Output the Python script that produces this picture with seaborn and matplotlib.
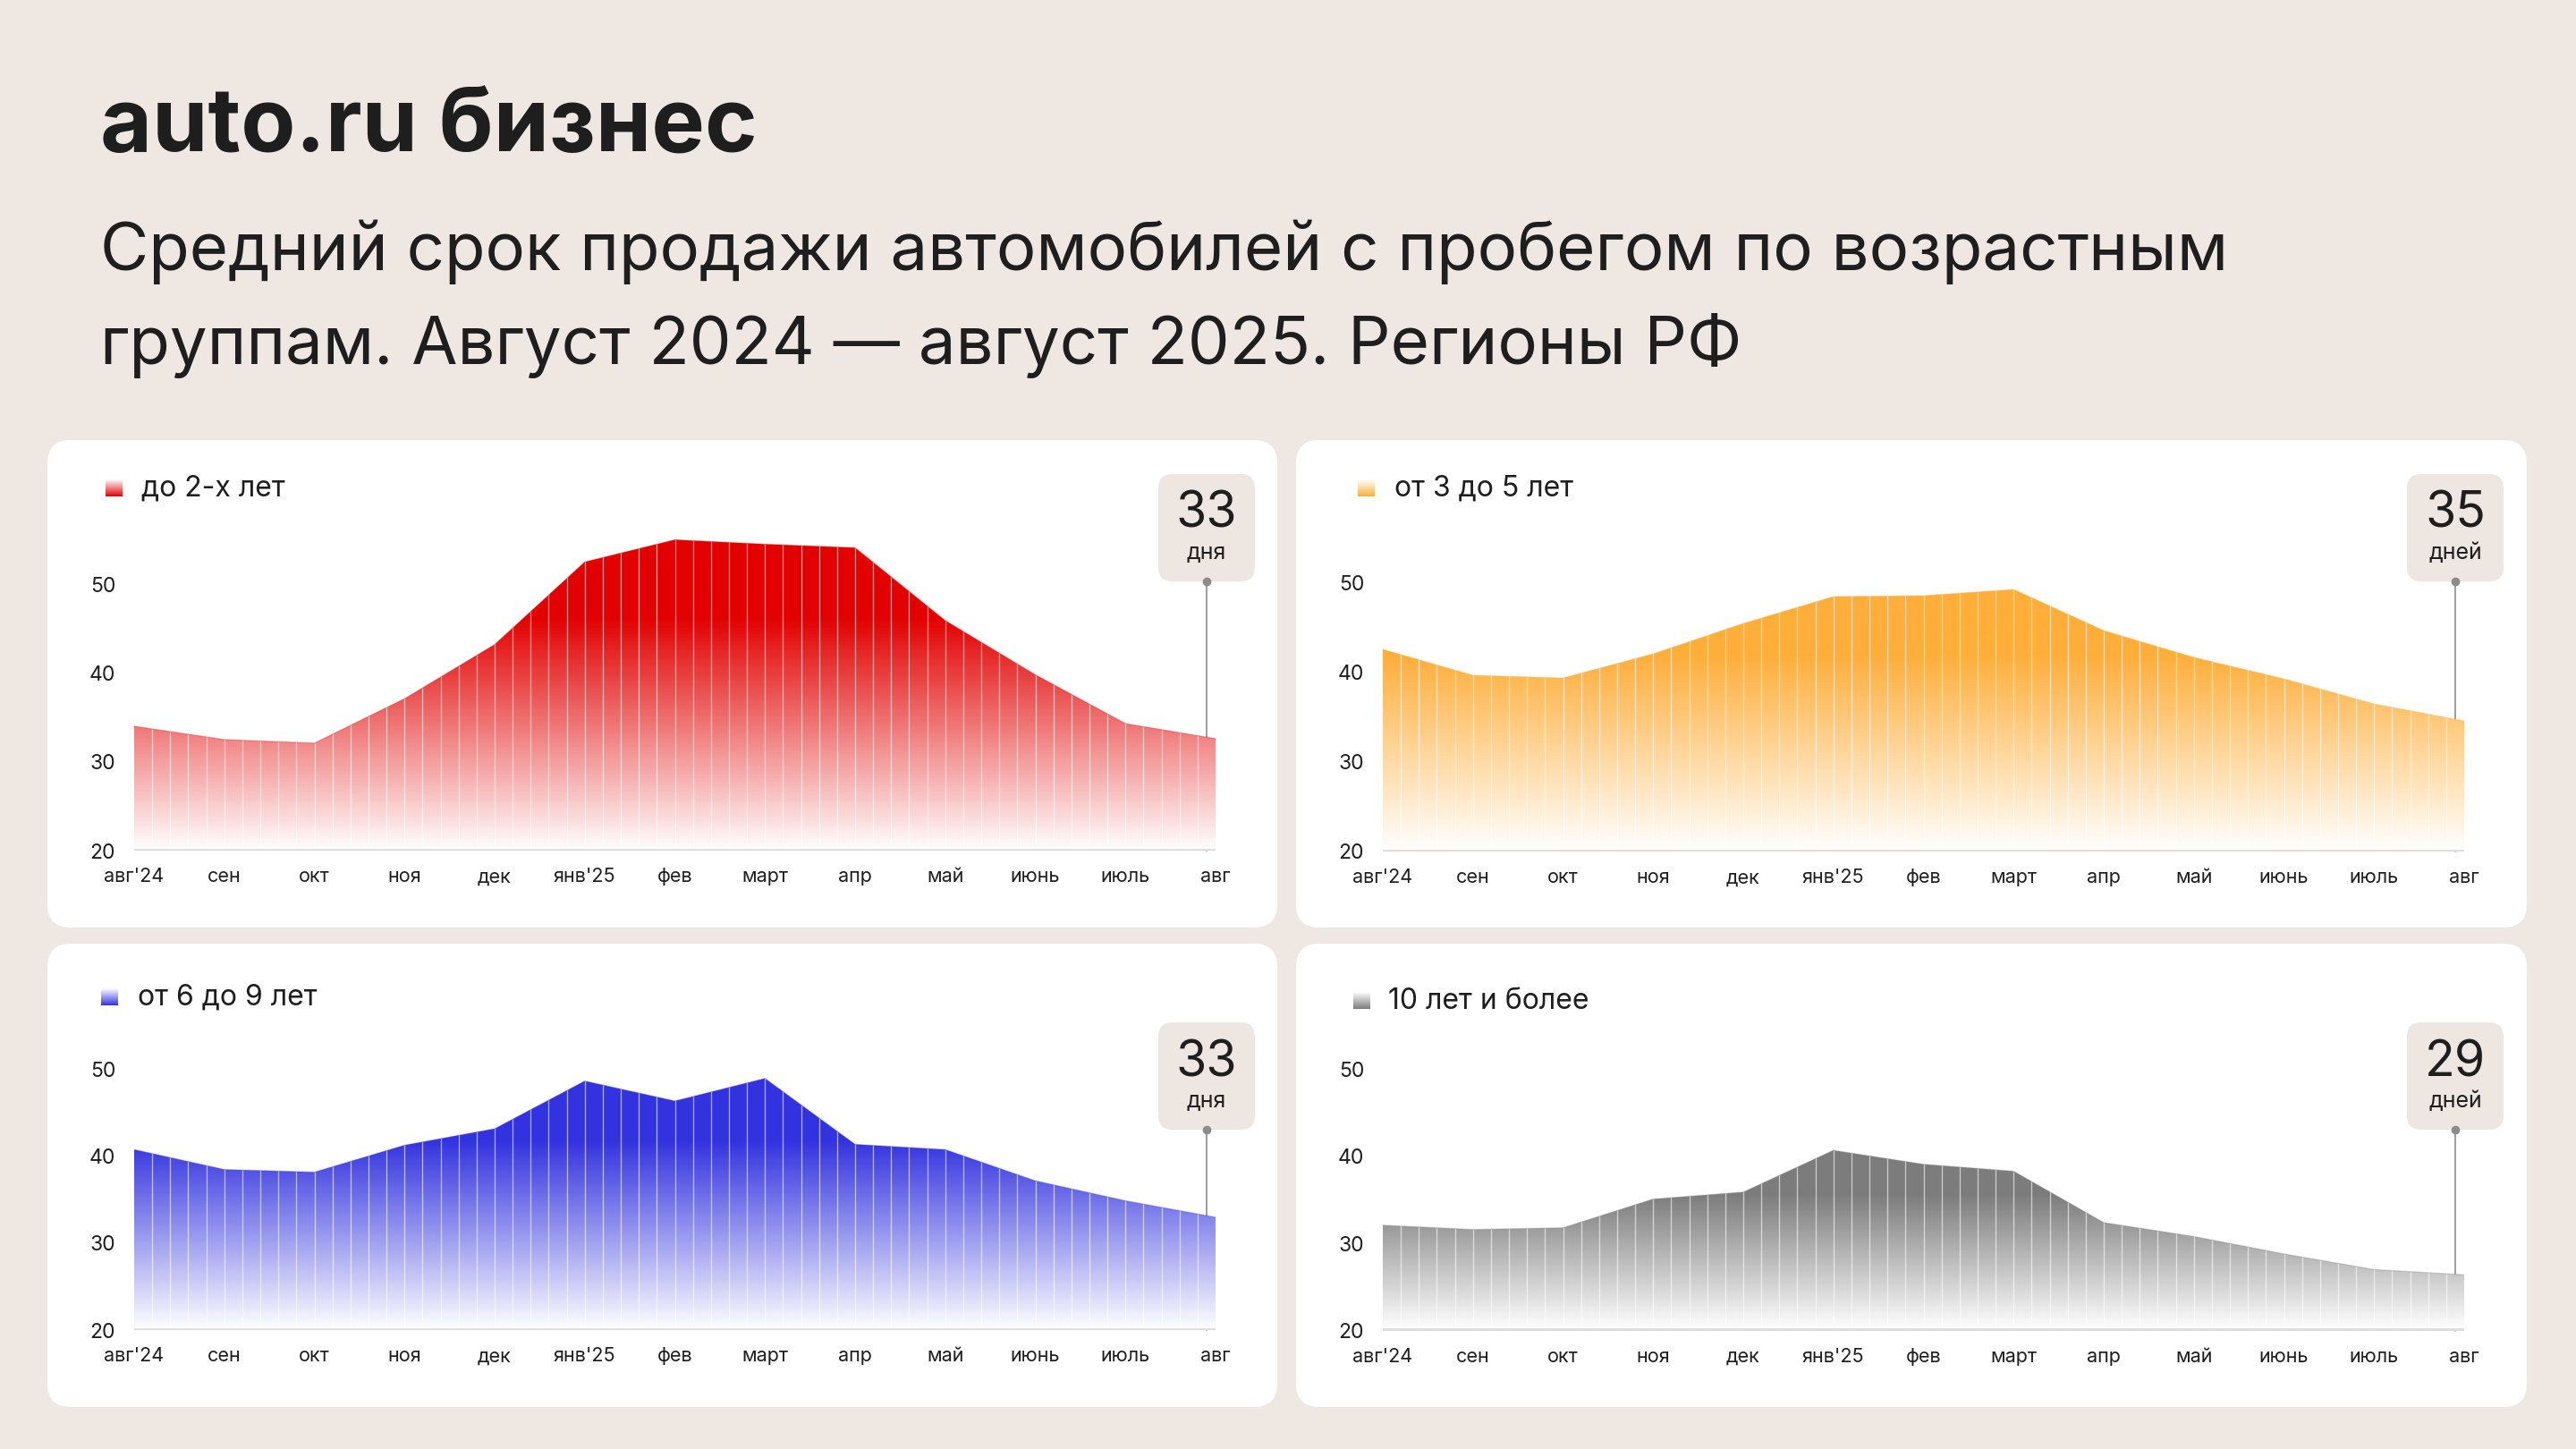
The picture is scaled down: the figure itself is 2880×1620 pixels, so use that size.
import numpy as np
import matplotlib
matplotlib.use("Agg")
import matplotlib.pyplot as plt
import seaborn as sns
import pandas as pd
from matplotlib.patches import FancyBboxPatch
from matplotlib.colors import to_rgb

# --- data ---
months = ["авг'24", "сен", "окт", "ноя", "дек", "янв'25", "фев", "март",
          "апр", "май", "июнь", "июль", "авг"]
under_2 = [34.0, 32.5, 32.1, 37.1, 43.2, 52.5, 55.0, 54.5, 54.1, 45.9, 39.8, 34.3, 32.6]
from_3_to_5 = [42.6, 39.7, 39.4, 42.1, 45.5, 48.5, 48.6, 49.3, 44.7, 41.7, 39.3, 36.5, 34.6]
from_6_to_9 = [40.8, 38.5, 38.2, 41.3, 43.2, 48.7, 46.4, 49.0, 41.4, 40.8, 37.2, 34.9, 33.0]
over_10 = [32.1, 31.6, 31.8, 35.1, 35.9, 40.7, 39.1, 38.3, 32.4, 30.8, 28.8, 27.0, 26.4]
group_names = ["до 2-х лет", "от 3 до 5 лет", "от 6 до 9 лет", "10 лет и более"]
badge_values = ["33", "35", "33", "29"]
badge_units = ["дня", "дней", "дня", "дней"]
y_ticks = [20, 30, 40, 50]

W, H = 2880, 1620
BG = "#EFE8E2"
TXT = "#1E1E1E"
colors = ["#E30000", "#FFAE3A", "#3333E0", "#7C7C7C"]


def gradient(color, n=256, solid=0.75):
    # white at the bottom, full colour from `solid` of the height upwards
    c = np.array(to_rgb(color))
    t = np.clip(np.linspace(0, 1, n) / solid, 0, 1)[:, None]
    rgb = 1 - t * (1 - c)
    return np.concatenate([rgb, np.ones((n, 1))], axis=1)[:, None, :]


def main():
    sns.set_theme(style="white")
    plt.rcParams["font.family"] = ["Inter", "DejaVu Sans"]

    fig = plt.figure(figsize=(W / 100, H / 100), dpi=100, facecolor=BG)
    bg = fig.add_axes([0, 0, 1, 1], zorder=0)
    bg.set_xlim(0, W)
    bg.set_ylim(H, 0)
    bg.set_autoscale_on(False)
    bg.axis("off")

    bg.text(112, 170, "auto.ru бизнес", fontsize=72, fontweight="bold",
            color=TXT, va="baseline")
    bg.text(112, 302, "Средний срок продажи автомобилей с пробегом по возрастным",
            fontsize=53.5, color=TXT, va="baseline")
    bg.text(112, 407, "группам. Август 2024 — август 2025. Регионы РФ",
            fontsize=53.5, color=TXT, va="baseline")

    panels = [(53, 492, 1428, 1037), (1449, 492, 2825, 1037),
              (53, 1055, 1428, 1573), (1449, 1055, 2825, 1573)]
    # left, right, y of 20, px per unit
    axes_geo = [(150, 1359, 951, 9.93), (1546, 2755, 952, 10.0),
                (150, 1359, 1487, 9.70), (1546, 2755, 1487.5, 9.73)]
    legend_pos = [(118, 536, 158, 546), (1518, 536, 1559, 546),
                  (113, 1105, 154, 1115), (1513, 1109, 1552, 1119)]
    badge_top = [530, 530, 1143, 1143]
    series = [under_2, from_3_to_5, from_6_to_9, over_10]

    for i in range(4):
        x0, y0, x1, y1 = panels[i]
        bg.add_patch(FancyBboxPatch((x0, y0), x1 - x0, y1 - y0,
                                    boxstyle="round,pad=0,rounding_size=26",
                                    facecolor="white", edgecolor="none"))

        left, right, y20, sc = axes_geo[i]
        ytop = 57
        top_px = y20 - (ytop - 20) * sc
        ax = fig.add_axes([left / W, 1 - y20 / H, (right - left) / W, (y20 - top_px) / H],
                          zorder=1)
        ax.set_facecolor("none")
        ax.set_xlim(0, 12)
        ax.set_ylim(20, ytop)

        df = pd.DataFrame({"x": np.arange(len(months)), "y": series[i]})
        vmax = max(series[i])
        poly = ax.fill_between(df["x"], df["y"], 20, facecolor="none", edgecolor="none")
        clip = poly.get_paths()[0]
        im = ax.imshow(gradient(colors[i]), extent=(0, 12, 20, vmax), origin="lower",
                       aspect="auto", interpolation="bilinear", zorder=1)
        im.set_clip_path(clip, transform=ax.transData)
        stripes = ax.vlines(np.arange(0.2, 12, 0.2), 20, ytop, colors="white",
                            linewidth=0.95, alpha=0.6, zorder=2)
        stripes.set_clip_path(clip, transform=ax.transData)
        sns.lineplot(data=df, x="x", y="y", ax=ax, color=colors[i], linewidth=1.0,
                     alpha=0.3, zorder=3)
        ax.axhline(20, color="#DCDCDC", linewidth=2.6, zorder=4)

        ax.set_xticks(range(len(months)))
        ax.set_xticklabels(months)
        ax.set_yticks(y_ticks)
        ax.set_xlabel("")
        ax.set_ylabel("")
        ax.tick_params(axis="x", length=0, pad=14, labelsize=15.5, labelcolor=TXT)
        ax.tick_params(axis="y", length=0, pad=15, labelsize=16.5, labelcolor=TXT)
        for s in ax.spines.values():
            s.set_visible(False)
        ax.grid(False)

        # legend marker and label
        lx, ly, tx, ty = legend_pos[i]
        grad = gradient(colors[i], solid=1.0)[::-1]
        bg.imshow(grad, extent=(lx, lx + 19, ly + 19, ly), origin="lower",
                  aspect="auto", zorder=2)
        bg.text(tx, ty, group_names[i], fontsize=23, color=TXT, va="center", ha="left")

        # badge with the last value
        dx, dy = ax.transData.transform((11.9, 20))
        bx, by = dx, H - dy
        bt = badge_top[i]
        bg.add_patch(FancyBboxPatch((bx - 54, bt), 108, 120,
                                    boxstyle="round,pad=0,rounding_size=16",
                                    facecolor="#EEE7E1", edgecolor="none", zorder=3))
        bg.text(bx, bt + 45, badge_values[i], fontsize=40, color=TXT,
                ha="center", va="center", zorder=4)
        bg.text(bx, bt + 88, badge_units[i], fontsize=18, color=TXT,
                ha="center", va="center", zorder=4)
        bg.plot([bx, bx], [bt + 120, by], color="#8C8C8C", linewidth=1.2, zorder=3)
        bg.plot([bx], [bt + 120], "o", color="#8C8C8C", markersize=6, zorder=4)

    fig.savefig("out.png", dpi=100, facecolor=BG)


if __name__ == "__main__":
    main()
